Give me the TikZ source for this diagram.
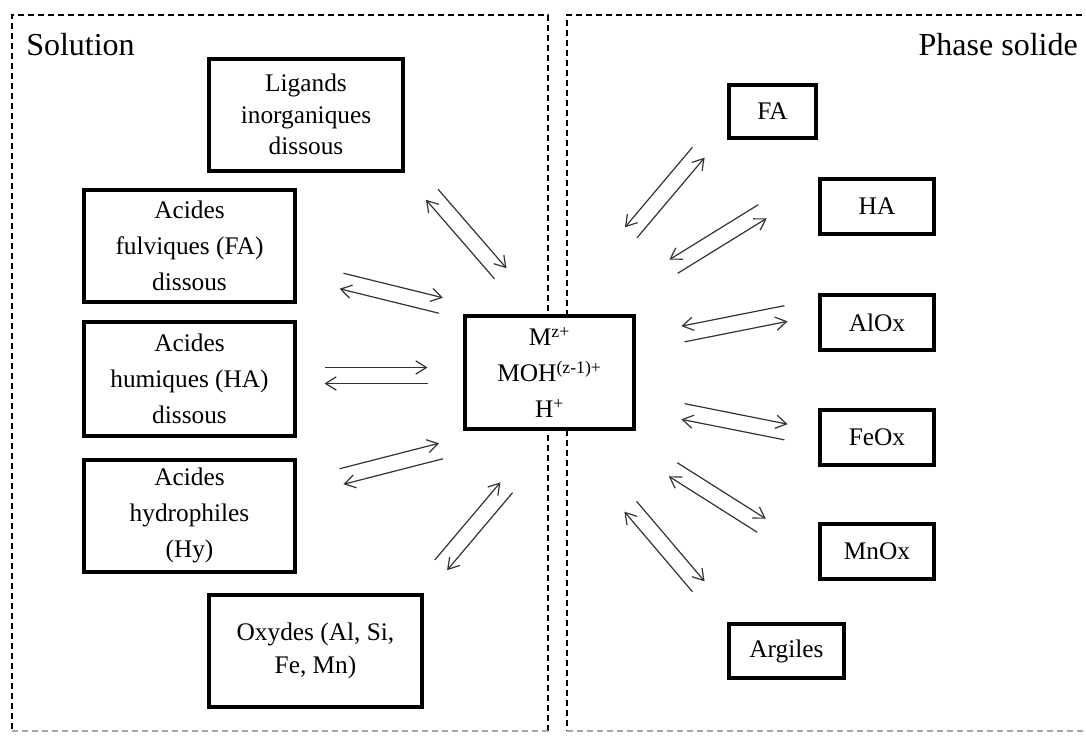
\documentclass[tikz,border=0pt]{standalone}
\usepackage{fontspec}
\setmainfont{Liberation Serif}
\usetikzlibrary{calc,arrows.meta}
\tikzset{eq/.style={%
  -{Straight Barb[length=8pt,width=10pt]},
  line width=0.9pt,
  draw=black!80,
  }
}
\tikzset{box/.style={%
  draw,
  fill=white,
  line width=3pt,
  align=center,
  inner sep=0pt,
  font=\fontsize{19}{27}\selectfont,
  }
}
\tikzset{big box/.style={box, minimum width=158.25pt, minimum height=84pt}}
\tikzset{small box/.style={box, minimum width=85.5pt, minimum height=41.25pt}}
\tikzset{zone/.style={dash pattern=on 4.5pt off 3pt, line width=0.8pt}}
\tikzset{title/.style={font=\fontsize{24}{28}\selectfont, inner sep=0pt}}
% two opposite arrows side by side
\newcommand\eqpair[3]{%
  \draw [eq] ($(#2)!#1!90:(#3)$) -- ($(#3)!#1!-90:(#2)$);
  \draw [eq] ($(#3)!#1!90:(#2)$) -- ($(#2)!#1!-90:(#3)$);
}

\begin{document}
\begin{tikzpicture}[x=0.75pt,y=-0.75pt]
  \useasboundingbox (0,0) rectangle (1086,736);

  % the two zones
  \draw [zone] (548,731) -- (548,15) -- (12,15) -- (12,731);
  \draw [zone] (1092,15) -- (567,15) -- (567,731);
  \draw [zone, black!35] (12,731) -- (548,731) (567,731) -- (1092,731);
  \node (sol) [title, anchor=base west] at (26,55) {Solution};
  \node (phs) [title, anchor=base east] at (1078,55) {Phase solide};

  % solution
  \node (lig) [big box, minimum width=145.5pt, font=\fontsize{19}{23.5}\selectfont]
    at (306,114.5) {Ligands\\inorganiques\\dissous};
  \node (ful) [big box] at (189.5,245.5) {Acides\\fulviques (FA)\\dissous};
  \node (hum) [big box, minimum height=85.5pt] at (189.5,379) {Acides\\humiques (HA)\\dissous};
  \node (hyd) [big box] at (189.5,515.5) {Acides\\hydrophiles\\(Hy)};
  \node (oxy) [big box, minimum width=159.75pt, font=\fontsize{19}{25}\selectfont]
    at (315.5,651) {Oxydes (Al, Si,\\Fe, Mn)};
  \node (ctr) [big box, minimum width=126.75pt, minimum height=84.75pt] at (549.5,372.5)
    {M\textsuperscript{z+}\\MOH\textsuperscript{(z-1)+}\\H\textsuperscript{+}};

  % solid phase
  \node (fa) [small box, minimum width=65.25pt, minimum height=39.75pt] at (772.5,111.5) {FA};
  \node (ha) [small box] at (877,206.5) {HA};
  \node (alox) [small box] at (877,322.5) {AlOx};
  \node (feox) [small box] at (877,437) {FeOx};
  \node (mnox) [small box] at (877,551.5) {MnOx};
  \node (arg) [small box, minimum width=86.25pt, minimum height=40.5pt] at (786.5,651) {Argiles};

  % arrow axes
  \coordinate (lig-o) at (432,194.5);   \coordinate (lig-c) at (500.5,273.5);
  \coordinate (ful-o) at (341.5,281);   \coordinate (ful-c) at (441,305.5);
  \coordinate (hum-o) at (324.5,375.5); \coordinate (hum-c) at (427.5,375.5);
  \coordinate (hyd-o) at (341.5,476.5); \coordinate (hyd-c) at (441,451);
  \coordinate (oxy-o) at (441,565);     \coordinate (oxy-c) at (506.5,487.5);
  \coordinate (fa-o) at (698.5,152.5);  \coordinate (fa-c) at (631,232.5);
  \coordinate (ha-o) at (762.5,211.5);  \coordinate (ha-c) at (673.5,266.5);
  \coordinate (alox-o) at (786,313.5);  \coordinate (alox-c) at (683,334);
  \coordinate (feox-o) at (786,432);    \coordinate (feox-c) at (683,411.5);
  \coordinate (mnox-o) at (761.5,525.5); \coordinate (mnox-c) at (673,469.5);
  \coordinate (arg-o) at (698.5,586.5); \coordinate (arg-c) at (630.5,506.5);

  \eqpair{6pt}{lig-o}{lig-c}
  \eqpair{6pt}{ful-o}{ful-c}
  \eqpair{6pt}{hum-o}{hum-c}
  \eqpair{6pt}{hyd-o}{hyd-c}
  \eqpair{6pt}{oxy-o}{oxy-c}
  \eqpair{-6pt}{fa-o}{fa-c}
  \eqpair{-6pt}{ha-o}{ha-c}
  \eqpair{-6pt}{alox-o}{alox-c}
  \eqpair{6pt}{feox-c}{feox-o}
  \eqpair{6pt}{mnox-c}{mnox-o}
  \eqpair{6pt}{arg-c}{arg-o}
\end{tikzpicture}
\end{document}
